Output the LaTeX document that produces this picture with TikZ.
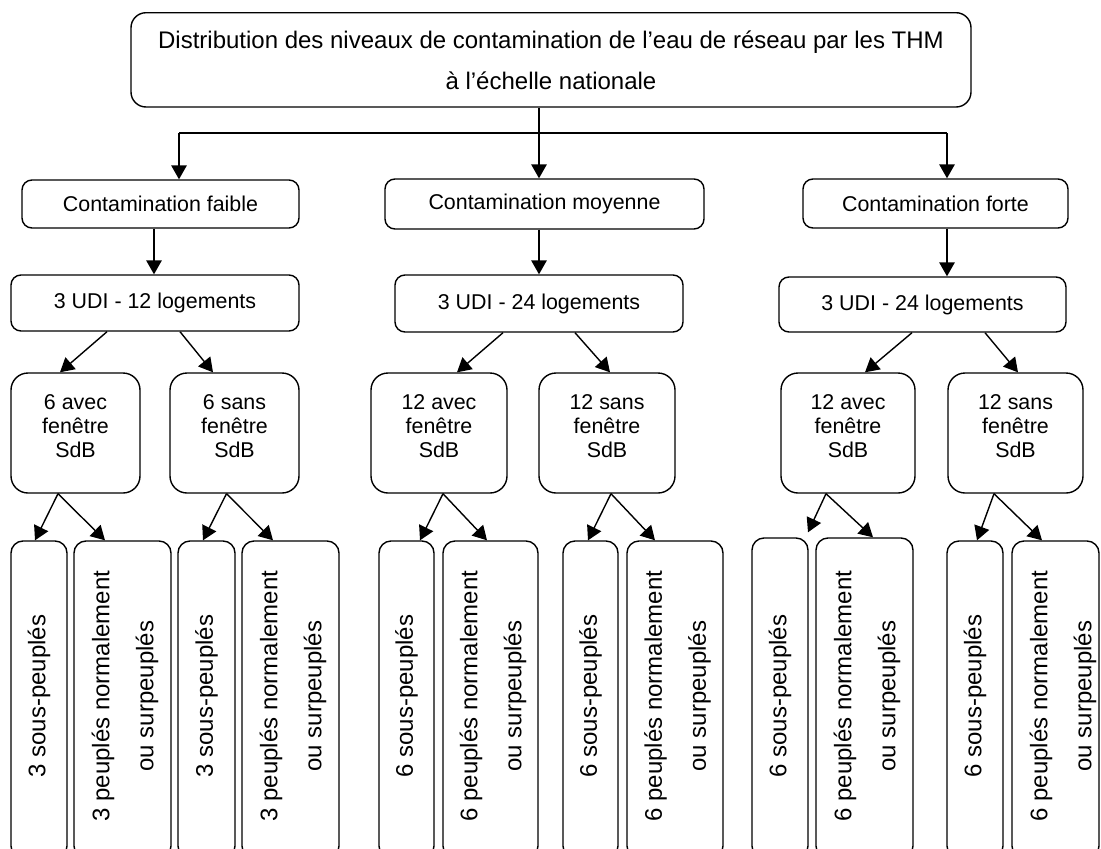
\documentclass[tikz,border=0pt]{standalone}
\usepackage{fontspec}
\setmainfont{Liberation Sans}
\usetikzlibrary{arrows.meta,calc}
\begin{document}
\begin{tikzpicture}[x=1pt,y=-1pt,
  bx/.style={draw, line width=1.4pt, inner sep=0pt, align=center, font=\fontsize{21.4}{24}\selectfont},
  lvl/.style={bx, rounded corners=10pt},
  sub/.style={bx, rounded corners=17pt},
  bot/.style={bx, rounded corners=12pt},
  txt/.style={inner sep=0pt, align=center, font=\fontsize{21.4}{24}\selectfont},
  vtxt/.style={inner sep=0pt, align=center, rotate=90, font=\fontsize{24}{44}\selectfont},
  ln/.style={line width=1.4pt},
  arr/.style={line width=1.4pt, -{Triangle[length=14pt,width=15.5pt]}}]
\useasboundingbox (0,0) rectangle (1101,849);
\fill[white] (0,0) rectangle (1101,849);
\clip (0,0) rectangle (1101,849);

% top
\node[bx, rounded corners=15pt, minimum width=840pt, minimum height=94.3pt,
      font=\fontsize{24}{28.8}\selectfont] (top) at (551,59.85)
  {Distribution des niveaux de contamination de l’eau de réseau par les THM\\[12.2pt]à l’échelle nationale};

% level
\node[lvl, minimum width=277pt, minimum height=48pt] (faible) at (160.5,204) {Contamination faible};
\node[lvl, minimum width=319pt, minimum height=50pt] (moyenne) at (544.5,204) {Contamination moyenne};
\node[lvl, minimum width=265pt, minimum height=49pt] (forte) at (935.5,203.5) {Contamination forte};

% UDI
\node[lvl, minimum width=288pt, minimum height=56pt] (udi1) at (155,303) {3 UDI - 12 logements};
\node[lvl, minimum width=288pt, minimum height=57pt] (udi2) at (539,303.5) {3 UDI - 24 logements};
\node[lvl, minimum width=287pt, minimum height=55pt] (udi3) at (922.5,304.5) {3 UDI - 24 logements};

% sub boxes
\node[sub, minimum width=129pt, minimum height=120pt] (a1) at (75.5,433) {};
\node[sub, minimum width=129pt, minimum height=120pt] (s1) at (234.5,433) {};
\node[sub, minimum width=136pt, minimum height=120pt] (a2) at (439,433) {};
\node[sub, minimum width=136pt, minimum height=120pt] (s2) at (607,433) {};
\node[sub, minimum width=134pt, minimum height=120pt] (a3) at (848,433) {};
\node[sub, minimum width=135pt, minimum height=120pt] (s3) at (1015.5,433) {};
\node[txt] (a1t) at ($(a1.center)+(0,-7)$) {6 avec\\fenêtre\\SdB};
\node[txt] (s1t) at ($(s1.center)+(0,-7)$) {6 sans\\fenêtre\\SdB};
\node[txt] (a2t) at ($(a2.center)+(0,-7)$) {12 avec\\fenêtre\\SdB};
\node[txt] (s2t) at ($(s2.center)+(0,-7)$) {12 sans\\fenêtre\\SdB};
\node[txt] (a3t) at ($(a3.center)+(0,-7)$) {12 avec\\fenêtre\\SdB};
\node[txt] (s3t) at ($(s3.center)+(0,-7)$) {12 sans\\fenêtre\\SdB};

% bottom boxes
\node[bot, minimum width=56pt, minimum height=317pt] (b1) at (39,699.5) {};
\node[bot, minimum width=97pt, minimum height=317pt] (c1) at (122.5,699.5) {};
\node[bot, minimum width=57pt, minimum height=317pt] (b2) at (206.5,699.5) {};
\node[bot, minimum width=97pt, minimum height=317pt] (c2) at (290.5,699.5) {};
\node[bot, minimum width=55pt, minimum height=317pt] (b3) at (406.5,699.5) {};
\node[bot, minimum width=95pt, minimum height=317pt] (c3) at (490.5,699.5) {};
\node[bot, minimum width=55pt, minimum height=317pt] (b4) at (590.5,699.5) {};
\node[bot, minimum width=96pt, minimum height=317pt] (c4) at (675,699.5) {};
\node[bot, minimum width=56pt, minimum height=320pt] (b5) at (780,698) {};
\node[bot, minimum width=97pt, minimum height=320pt] (c5) at (864.5,698) {};
\node[bot, minimum width=56pt, minimum height=317pt] (b6) at (975,699.5) {};
\node[bot, minimum width=87pt, minimum height=317pt] (c6) at (1055.5,699.5) {};

\node[vtxt] (b1t) at (b1.center |- 0,696) {3 sous-peuplés};
\node[vtxt] (b2t) at (b2.center |- 0,696) {3 sous-peuplés};
\node[vtxt] (b3t) at (b3.center |- 0,696) {6 sous-peuplés};
\node[vtxt] (b4t) at (b4.center |- 0,696) {6 sous-peuplés};
\node[vtxt] (b5t) at (b5.center |- 0,696) {6 sous-peuplés};
\node[vtxt] (b6t) at (b6.center |- 0,696) {6 sous-peuplés};
\node[vtxt] (c1t) at ($(c1.center |- 0,696)+(2.5,0)$) {3 peuplés normalement\\ou surpeuplés};
\node[vtxt] (c2t) at ($(c2.center |- 0,696)+(2.5,0)$) {3 peuplés normalement\\ou surpeuplés};
\node[vtxt] (c3t) at ($(c3.center |- 0,696)+(2.5,0)$) {6 peuplés normalement\\ou surpeuplés};
\node[vtxt] (c4t) at ($(c4.center |- 0,696)+(2.5,0)$) {6 peuplés normalement\\ou surpeuplés};
\node[vtxt] (c5t) at ($(c5.center |- 0,696)+(2.5,0)$) {6 peuplés normalement\\ou surpeuplés};
\node[vtxt] (c6t) at ($(c6.center |- 0,696)+(7.5,0)$) {6 peuplés normalement\\ou surpeuplés};

% top connectors
\coordinate (h1) at (179,133);
\coordinate (hm) at (539,133);
\coordinate (h3) at (947,133);
\coordinate (v1) at (154,0);
\draw[ln] (h1) -- (h3);
\draw[ln] (top.south -| hm) -- (hm);
\draw[arr] (h1) -- (h1 |- faible.north);
\draw[arr] (hm) -- (hm |- moyenne.north);
\draw[arr] (h3) -- (h3 |- forte.north);

% level to UDI
\draw[arr] (faible.south -| v1) -- (udi1.north -| v1);
\draw[arr] (moyenne.south -| hm) -- (udi2.north -| hm);
\draw[arr] (forte.south -| h3) -- (udi3.north -| h3);

% UDI to sub
\draw[arr] ($(udi1.south)+(-48,0)$) -- ($(a1.north)+(-15.5,0)$);
\draw[arr] ($(udi1.south)+(25,0)$) -- ($(s1.north)+(-21.5,0)$);
\draw[arr] ($(udi2.south)+(-36,0)$) -- ($(a2.north)+(18,0)$);
\draw[arr] ($(udi2.south)+(36,0)$) -- ($(s2.north)+(3,0)$);
\draw[arr] ($(udi3.south)+(-10.5,0)$) -- ($(a3.north)+(17,0)$);
\draw[arr] ($(udi3.south)+(62.5,0)$) -- ($(s3.north)+(2.5,0)$);

% sub to bottom
\draw[arr] ($(a1.south)+(-17.5,0)$) -- ($(b1.north)+(-4,0)$);
\draw[arr] ($(a1.south)+(-17.5,0)$) -- ($(c1.north)+(-17.5,0)$);
\draw[arr] ($(s1.south)+(-8,0)$) -- ($(b2.north)+(-3.5,0)$);
\draw[arr] ($(s1.south)+(-8,0)$) -- ($(c2.north)+(-17.5,0)$);
\draw[arr] ($(a2.south)+(4,0)$) -- ($(b3.north)+(13.5,0)$);
\draw[arr] ($(a2.south)+(4,0)$) -- ($(c3.north)+(-3.5,0)$);
\draw[arr] ($(s2.south)+(4,0)$) -- ($(b4.north)+(-2.5,0)$);
\draw[arr] ($(s2.south)+(4,0)$) -- ($(c4.north)+(-20,0)$);
\draw[arr] ($(a3.south)+(-22,0)$) -- ($(b5.north)+(28,-5)$);
\draw[arr] ($(a3.south)+(-22,0)$) -- ($(c5.north)+(8.5,0)$);
\draw[arr] ($(s3.south)+(-21.5,0)$) -- ($(b6.north)+(2,0)$);
\draw[arr] ($(s3.south)+(-21.5,0)$) -- ($(c6.north)+(-13.5,0)$);
\end{tikzpicture}
\end{document}
